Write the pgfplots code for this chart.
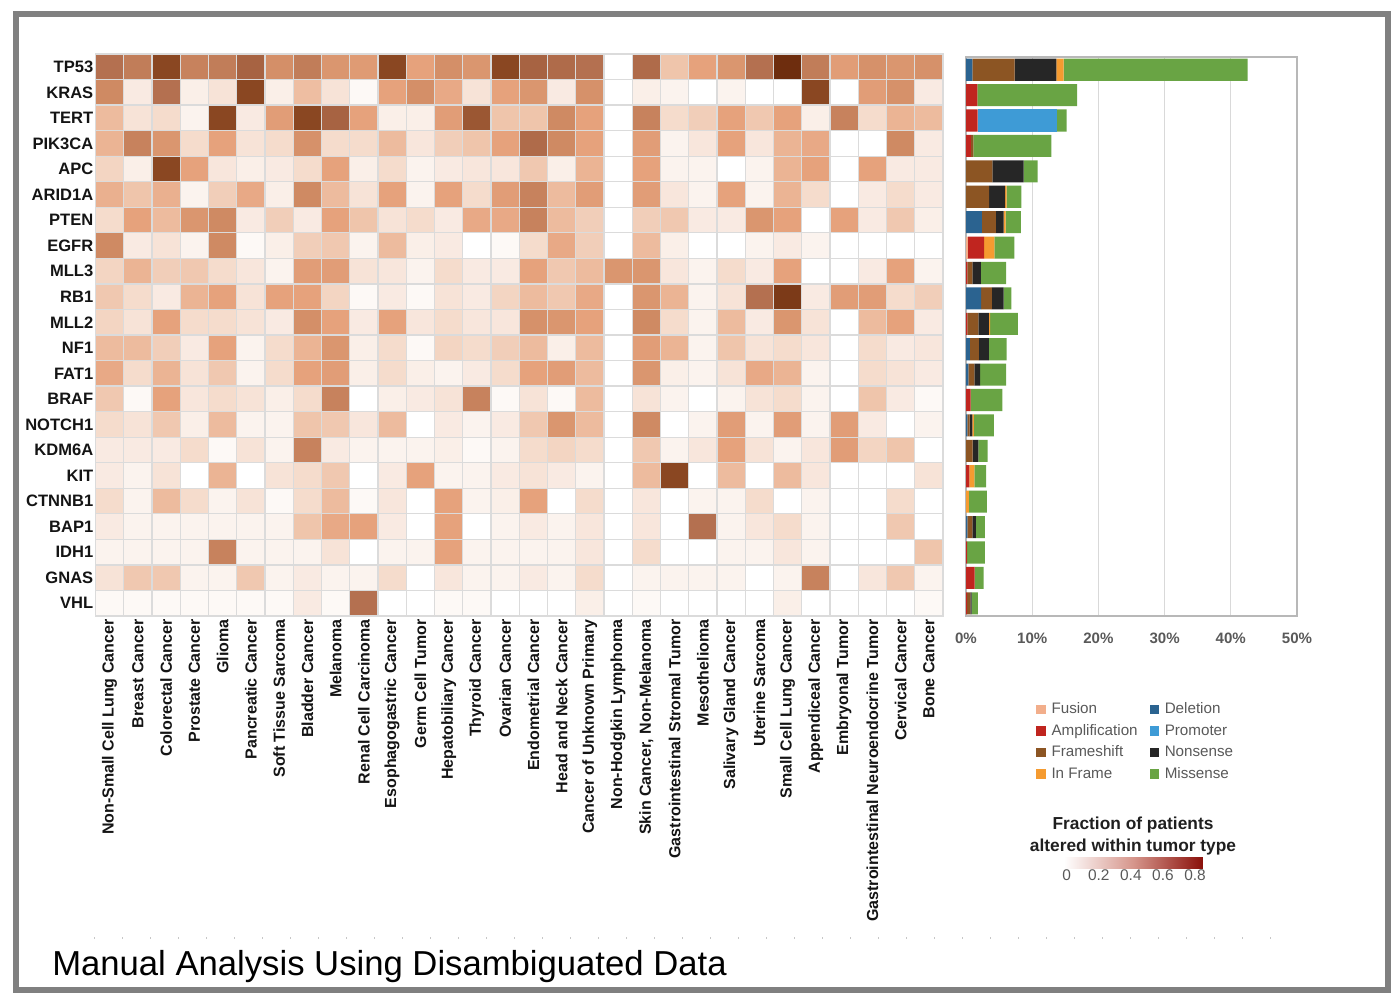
\documentclass[border=0pt]{standalone}
\usepackage{pgfplots}
\pgfplotsset{compat=1.18}
\usepackage{pgfplotstable}
\usepackage{fontspec}
\setmainfont{Liberation Sans}
\definecolor{cFus}{HTML}{F2AE8B}
\definecolor{cAmp}{HTML}{C0251F}
\definecolor{cDel}{HTML}{2B6390}
\definecolor{cFS}{HTML}{8C5523}
\definecolor{cIF}{HTML}{F59B30}
\definecolor{cProm}{HTML}{3E9BD6}
\definecolor{cNS}{HTML}{262626}
\definecolor{cMis}{HTML}{69A444}
\pgfplotstableread{
i fus amp del fs ns inf prom mis
0 0 0 0.95 6.4 6.3 1.1 0 27.8
1 0 1.7 0 0 0 0 0 15.1
2 0 1.75 0 0 0 0 12.0 1.45
3 0 0.75 0 0.35 0 0 0 11.8
4 0 0 0 4.0 4.7 0 0 2.1
5 0 0 0 3.5 2.4 0.25 0 2.2
6 0 0 2.4 2.1 1.2 0.3 0 2.3
7 0.25 2.5 0 0 0 1.55 0 3.0
8 0 0.2 0 0.75 1.3 0 0 3.8
9 0 0 2.3 1.6 1.8 0 0 1.15
10 0 0.2 0 1.65 1.6 0.2 0 4.2
11 0 0 0.6 1.35 1.5 0 0 2.7
12 0 0 0.35 0.9 0.9 0 0 3.9
13 0 0.7 0 0 0 0 0 4.8
14 0 0 0.2 0.35 0.4 0.25 0 3.0
15 0 0 0 1.0 0.85 0 0 1.4
16 0 0.5 0 0 0 0.75 0 1.8
17 0 0 0 0 0 0.45 0 2.7
18 0 0 0.2 0.75 0.55 0 0 1.35
19 0 0.15 0 0 0 0 0 2.7
20 0 1.3 0 0 0 0 0 1.35
21 0 0.15 0 0.5 0.2 0 0 0.95
}\bardata
\begin{document}
\begin{tikzpicture}[x=0.75pt,y=-0.75pt]
\path[use as bounding box] (0,0) rectangle (1400,1005);
\draw[black!50, line width=4.5pt] (16,14.5) rectangle (1387.5,990);
% heatmap
\begin{axis}[
  at={(71.625pt,-462pt)}, anchor=south west, scale only axis,
  width=635.6pt, height=421.5pt,
  xmin=-0.5, xmax=29.5, ymin=-0.5, ymax=21.5, y dir=reverse,
  axis line style={black!14, line width=1pt},
  xtick={0,...,29}, ytick={0,...,21},
  major tick length=0pt, minor tick length=0pt,
  minor xtick={0.5,1.5,...,28.5}, minor ytick={0.5,1.5,...,20.5},
  xminorgrids, yminorgrids, minor grid style={black!14, line width=1pt},
  axis on top,
  colormap={heat}{rgb255(0cm)=(255,255,255) rgb255(2cm)=(251,243,238) rgb255(5cm)=(248,230,220) rgb255(10cm)=(243,213,194) rgb255(18cm)=(237,187,158) rgb255(25cm)=(230,162,124) rgb255(35cm)=(207,138,99) rgb255(45cm)=(180,112,80) rgb255(60cm)=(142,74,37) rgb255(80cm)=(106,42,12)},
  point meta min=0, point meta max=0.8,
  xticklabels={Non-Small Cell Lung Cancer,Breast Cancer,Colorectal Cancer,Prostate Cancer,Glioma,Pancreatic Cancer,Soft Tissue Sarcoma,Bladder Cancer,Melanoma,Renal Cell Carcinoma,Esophagogastric Cancer,Germ Cell Tumor,Hepatobiliary Cancer,Thyroid Cancer,Ovarian Cancer,Endometrial Cancer,Head and Neck Cancer,Cancer of Unknown Primary,Non-Hodgkin Lymphoma,{Skin Cancer, Non-Melanoma},Gastrointestinal Stromal Tumor,Mesothelioma,Salivary Gland Cancer,Uterine Sarcoma,Small Cell Lung Cancer,Appendiceal Cancer,Embryonal Tumor,Gastrointestinal Neuroendocrine Tumor,Cervical Cancer,Bone Cancer},
  yticklabels={TP53,KRAS,TERT,PIK3CA,APC,ARID1A,PTEN,EGFR,MLL3,RB1,MLL2,NF1,FAT1,BRAF,NOTCH1,KDM6A,KIT,CTNNB1,BAP1,IDH1,GNAS,VHL},
  xticklabel style={rotate=90, anchor=east, inner sep=2.5pt, font=\bfseries\fontsize{12}{14}\selectfont, text=black!92},
  yticklabel style={inner sep=1.5pt, font=\bfseries\fontsize{12.4}{14}\selectfont, text=black!92},
]
\addplot[matrix plot*, mesh/cols=30, point meta=explicit] coordinates {
(0,0)[0.45] (1,0)[0.40] (2,0)[0.62] (3,0)[0.38] (4,0)[0.40] (5,0)[0.50] (6,0)[0.33] (7,0)[0.40] (8,0)[0.30] (9,0)[0.28] (10,0)[0.62] (11,0)[0.25] (12,0)[0.33] (13,0)[0.30] (14,0)[0.62] (15,0)[0.50] (16,0)[0.47] (17,0)[0.45] (18,0)[0] (19,0)[0.47] (20,0)[0.15] (21,0)[0.25] (22,0)[0.30] (23,0)[0.45] (24,0)[0.78] (25,0)[0.40] (26,0)[0.27] (27,0)[0.32] (28,0)[0.30] (29,0)[0.32]
(0,1)[0.35] (1,1)[0.04] (2,1)[0.45] (3,1)[0.03] (4,1)[0.06] (5,1)[0.62] (6,1)[0.03] (7,1)[0.17] (8,1)[0.06] (9,1)[0.01] (10,1)[0.25] (11,1)[0.33] (12,1)[0.23] (13,1)[0.06] (14,1)[0.25] (15,1)[0.30] (16,1)[0.04] (17,1)[0.32] (18,1)[0] (19,1)[0.03] (20,1)[0.02] (21,1)[0] (22,1)[0.02] (23,1)[0] (24,1)[0] (25,1)[0.62] (26,1)[0] (27,1)[0.27] (28,1)[0.32] (29,1)[0.04]
(0,2)[0.18] (1,2)[0.06] (2,2)[0.08] (3,2)[0.02] (4,2)[0.62] (5,2)[0.04] (6,2)[0.27] (7,2)[0.62] (8,2)[0.50] (9,2)[0.25] (10,2)[0.03] (11,2)[0.03] (12,2)[0.27] (13,2)[0.55] (14,2)[0.15] (15,2)[0.15] (16,2)[0.35] (17,2)[0.25] (18,2)[0] (19,2)[0.38] (20,2)[0.08] (21,2)[0.12] (22,2)[0.25] (23,2)[0.14] (24,2)[0.25] (25,2)[0.03] (26,2)[0.38] (27,2)[0.08] (28,2)[0.20] (29,2)[0.18]
(0,3)[0.20] (1,3)[0.38] (2,3)[0.30] (3,3)[0.08] (4,3)[0.25] (5,3)[0.06] (6,3)[0.08] (7,3)[0.32] (8,3)[0.08] (9,3)[0.08] (10,3)[0.18] (11,3)[0.05] (12,3)[0.12] (13,3)[0.15] (14,3)[0.25] (15,3)[0.47] (16,3)[0.35] (17,3)[0.25] (18,3)[0] (19,3)[0.27] (20,3)[0.02] (21,3)[0.05] (22,3)[0.25] (23,3)[0.05] (24,3)[0.20] (25,3)[0.23] (26,3)[0] (27,3)[0] (28,3)[0.35] (29,3)[0.04]
(0,4)[0.10] (1,4)[0.03] (2,4)[0.62] (3,4)[0.25] (4,4)[0.05] (5,4)[0.03] (6,4)[0.04] (7,4)[0.08] (8,4)[0.25] (9,4)[0.03] (10,4)[0.08] (11,4)[0.02] (12,4)[0.04] (13,4)[0.05] (14,4)[0.05] (15,4)[0.14] (16,4)[0.03] (17,4)[0.20] (18,4)[0] (19,4)[0.25] (20,4)[0.02] (21,4)[0.02] (22,4)[0] (23,4)[0.02] (24,4)[0.20] (25,4)[0.25] (26,4)[0] (27,4)[0.25] (28,4)[0.04] (29,4)[0.04]
(0,5)[0.21] (1,5)[0.15] (2,5)[0.21] (3,5)[0.02] (4,5)[0.12] (5,5)[0.23] (6,5)[0.03] (7,5)[0.35] (8,5)[0.18] (9,5)[0.06] (10,5)[0.25] (11,5)[0.02] (12,5)[0.25] (13,5)[0.08] (14,5)[0.27] (15,5)[0.38] (16,5)[0.18] (17,5)[0.27] (18,5)[0] (19,5)[0.27] (20,5)[0.05] (21,5)[0.02] (22,5)[0.25] (23,5)[0.02] (24,5)[0.20] (25,5)[0.08] (26,5)[0] (27,5)[0.04] (28,5)[0.08] (29,5)[0.04]
(0,6)[0.08] (1,6)[0.25] (2,6)[0.18] (3,6)[0.30] (4,6)[0.35] (5,6)[0.04] (6,6)[0.12] (7,6)[0.04] (8,6)[0.25] (9,6)[0.15] (10,6)[0.06] (11,6)[0.08] (12,6)[0.04] (13,6)[0.23] (14,6)[0.23] (15,6)[0.38] (16,6)[0.18] (17,6)[0.12] (18,6)[0] (19,6)[0.12] (20,6)[0.14] (21,6)[0.04] (22,6)[0.04] (23,6)[0.30] (24,6)[0.25] (25,6)[0] (26,6)[0.25] (27,6)[0.04] (28,6)[0.14] (29,6)[0.03]
(0,7)[0.35] (1,7)[0.04] (2,7)[0.06] (3,7)[0.02] (4,7)[0.35] (5,7)[0.01] (6,7)[0.03] (7,7)[0.12] (8,7)[0.14] (9,7)[0.02] (10,7)[0.18] (11,7)[0.03] (12,7)[0.04] (13,7)[0] (14,7)[0.01] (15,7)[0.08] (16,7)[0.23] (17,7)[0.12] (18,7)[0] (19,7)[0.18] (20,7)[0.03] (21,7)[0] (22,7)[0] (23,7)[0.02] (24,7)[0.04] (25,7)[0.02] (26,7)[0] (27,7)[0] (28,7)[0] (29,7)[0]
(0,8)[0.10] (1,8)[0.20] (2,8)[0.12] (3,8)[0.14] (4,8)[0.08] (5,8)[0.05] (6,8)[0.02] (7,8)[0.27] (8,8)[0.27] (9,8)[0.06] (10,8)[0.05] (11,8)[0.02] (12,8)[0.08] (13,8)[0.04] (14,8)[0.04] (15,8)[0.25] (16,8)[0.14] (17,8)[0.18] (18,8)[0.30] (19,8)[0.30] (20,8)[0.05] (21,8)[0.02] (22,8)[0.08] (23,8)[0.04] (24,8)[0.25] (25,8)[0] (26,8)[0] (27,8)[0.04] (28,8)[0.25] (29,8)[0.02]
(0,9)[0.14] (1,9)[0.08] (2,9)[0.04] (3,9)[0.20] (4,9)[0.25] (5,9)[0.06] (6,9)[0.25] (7,9)[0.25] (8,9)[0.10] (9,9)[0.01] (10,9)[0.04] (11,9)[0.01] (12,9)[0.06] (13,9)[0.04] (14,9)[0.10] (15,9)[0.18] (16,9)[0.14] (17,9)[0.23] (18,9)[0] (19,9)[0.30] (20,9)[0.20] (21,9)[0.02] (22,9)[0.06] (23,9)[0.45] (24,9)[0.70] (25,9)[0.04] (26,9)[0.27] (27,9)[0.27] (28,9)[0.08] (29,9)[0.12]
(0,10)[0.10] (1,10)[0.06] (2,10)[0.25] (3,10)[0.08] (4,10)[0.08] (5,10)[0.06] (6,10)[0.04] (7,10)[0.33] (8,10)[0.25] (9,10)[0.04] (10,10)[0.25] (11,10)[0.05] (12,10)[0.08] (13,10)[0.05] (14,10)[0.05] (15,10)[0.32] (16,10)[0.30] (17,10)[0.25] (18,10)[0] (19,10)[0.35] (20,10)[0.08] (21,10)[0.02] (22,10)[0.18] (23,10)[0.04] (24,10)[0.30] (25,10)[0.06] (26,10)[0] (27,10)[0.18] (28,10)[0.25] (29,10)[0.04]
(0,11)[0.18] (1,11)[0.18] (2,11)[0.12] (3,11)[0.04] (4,11)[0.25] (5,11)[0.02] (6,11)[0.08] (7,11)[0.20] (8,11)[0.30] (9,11)[0.03] (10,11)[0.08] (11,11)[0.01] (12,11)[0.10] (13,11)[0.08] (14,11)[0.12] (15,11)[0.18] (16,11)[0.03] (17,11)[0.18] (18,11)[0] (19,11)[0.27] (20,11)[0.20] (21,11)[0.02] (22,11)[0.15] (23,11)[0.06] (24,11)[0.08] (25,11)[0.05] (26,11)[0] (27,11)[0.08] (28,11)[0.04] (29,11)[0.05]
(0,12)[0.23] (1,12)[0.08] (2,12)[0.20] (3,12)[0.06] (4,12)[0.14] (5,12)[0.02] (6,12)[0.08] (7,12)[0.25] (8,12)[0.27] (9,12)[0.03] (10,12)[0.08] (11,12)[0.03] (12,12)[0.02] (13,12)[0.04] (14,12)[0.08] (15,12)[0.25] (16,12)[0.27] (17,12)[0.18] (18,12)[0] (19,12)[0.30] (20,12)[0.03] (21,12)[0.02] (22,12)[0.06] (23,12)[0.23] (24,12)[0.20] (25,12)[0.02] (26,12)[0] (27,12)[0.08] (28,12)[0.06] (29,12)[0.04]
(0,13)[0.14] (1,13)[0.01] (2,13)[0.25] (3,13)[0.05] (4,13)[0.08] (5,13)[0.06] (6,13)[0.03] (7,13)[0.08] (8,13)[0.38] (9,13)[0] (10,13)[0.03] (11,13)[0.04] (12,13)[0.06] (13,13)[0.38] (14,13)[0.01] (15,13)[0.06] (16,13)[0.01] (17,13)[0.18] (18,13)[0] (19,13)[0.06] (20,13)[0.02] (21,13)[0] (22,13)[0.02] (23,13)[0.06] (24,13)[0.08] (25,13)[0.02] (26,13)[0] (27,13)[0.15] (28,13)[0.04] (29,13)[0.01]
(0,14)[0.08] (1,14)[0.06] (2,14)[0.14] (3,14)[0.03] (4,14)[0.18] (5,14)[0.02] (6,14)[0.02] (7,14)[0.15] (8,14)[0.14] (9,14)[0.05] (10,14)[0.18] (11,14)[0] (12,14)[0.04] (13,14)[0.02] (14,14)[0.04] (15,14)[0.14] (16,14)[0.30] (17,14)[0.18] (18,14)[0] (19,14)[0.35] (20,14)[0] (21,14)[0.02] (22,14)[0.27] (23,14)[0.02] (24,14)[0.27] (25,14)[0.02] (26,14)[0.27] (27,14)[0.04] (28,14)[0] (29,14)[0.02]
(0,15)[0.04] (1,15)[0.04] (2,15)[0.04] (3,15)[0.08] (4,15)[0.01] (5,15)[0.06] (6,15)[0.02] (7,15)[0.38] (8,15)[0.04] (9,15)[0.02] (10,15)[0.02] (11,15)[0.02] (12,15)[0.03] (13,15)[0.01] (14,15)[0.02] (15,15)[0.08] (16,15)[0.10] (17,15)[0.08] (18,15)[0] (19,15)[0.14] (20,15)[0.02] (21,15)[0.05] (22,15)[0.25] (23,15)[0.06] (24,15)[0.02] (25,15)[0.05] (26,15)[0.27] (27,15)[0.10] (28,15)[0.15] (29,15)[0]
(0,16)[0.04] (1,16)[0.02] (2,16)[0.06] (3,16)[0] (4,16)[0.20] (5,16)[0] (6,16)[0.06] (7,16)[0.08] (8,16)[0.14] (9,16)[0] (10,16)[0.04] (11,16)[0.25] (12,16)[0.02] (13,16)[0.02] (14,16)[0.04] (15,16)[0.06] (16,16)[0.04] (17,16)[0.02] (18,16)[0] (19,16)[0.18] (20,16)[0.62] (21,16)[0] (22,16)[0.18] (23,16)[0] (24,16)[0.18] (25,16)[0.05] (26,16)[0] (27,16)[0] (28,16)[0] (29,16)[0.06]
(0,17)[0.08] (1,17)[0.02] (2,17)[0.18] (3,17)[0.08] (4,17)[0.02] (5,17)[0.06] (6,17)[0.01] (7,17)[0.08] (8,17)[0.18] (9,17)[0.01] (10,17)[0.05] (11,17)[0] (12,17)[0.25] (13,17)[0.02] (14,17)[0.03] (15,17)[0.25] (16,17)[0] (17,17)[0.08] (18,17)[0] (19,17)[0.05] (20,17)[0] (21,17)[0.02] (22,17)[0.02] (23,17)[0.08] (24,17)[0] (25,17)[0.02] (26,17)[0] (27,17)[0] (28,17)[0.08] (29,17)[0]
(0,18)[0.04] (1,18)[0.02] (2,18)[0.02] (3,18)[0.02] (4,18)[0.02] (5,18)[0.02] (6,18)[0.02] (7,18)[0.15] (8,18)[0.23] (9,18)[0.25] (10,18)[0.04] (11,18)[0] (12,18)[0.25] (13,18)[0] (14,18)[0.02] (15,18)[0.04] (16,18)[0.02] (17,18)[0.05] (18,18)[0] (19,18)[0.05] (20,18)[0] (21,18)[0.45] (22,18)[0.02] (23,18)[0.05] (24,18)[0.08] (25,18)[0.02] (26,18)[0] (27,18)[0] (28,18)[0.14] (29,18)[0]
(0,19)[0.02] (1,19)[0.02] (2,19)[0.02] (3,19)[0.02] (4,19)[0.38] (5,19)[0.02] (6,19)[0.02] (7,19)[0.02] (8,19)[0.06] (9,19)[0] (10,19)[0.02] (11,19)[0.02] (12,19)[0.25] (13,19)[0.02] (14,19)[0.02] (15,19)[0.02] (16,19)[0.02] (17,19)[0.05] (18,19)[0] (19,19)[0.08] (20,19)[0] (21,19)[0] (22,19)[0.02] (23,19)[0.02] (24,19)[0.05] (25,19)[0.02] (26,19)[0] (27,19)[0] (28,19)[0] (29,19)[0.15]
(0,20)[0.06] (1,20)[0.14] (2,20)[0.14] (3,20)[0.02] (4,20)[0.02] (5,20)[0.14] (6,20)[0.02] (7,20)[0.04] (8,20)[0.02] (9,20)[0.02] (10,20)[0.08] (11,20)[0] (12,20)[0.05] (13,20)[0.02] (14,20)[0.02] (15,20)[0.04] (16,20)[0.02] (17,20)[0.08] (18,20)[0] (19,20)[0.02] (20,20)[0.02] (21,20)[0.02] (22,20)[0.02] (23,20)[0] (24,20)[0.02] (25,20)[0.38] (26,20)[0] (27,20)[0.05] (28,20)[0.14] (29,20)[0.02]
(0,21)[0.01] (1,21)[0.01] (2,21)[0.01] (3,21)[0.01] (4,21)[0.01] (5,21)[0.01] (6,21)[0.01] (7,21)[0.04] (8,21)[0.01] (9,21)[0.45] (10,21)[0] (11,21)[0] (12,21)[0.01] (13,21)[0.01] (14,21)[0] (15,21)[0] (16,21)[0] (17,21)[0.03] (18,21)[0] (19,21)[0.01] (20,21)[0] (21,21)[0] (22,21)[0] (23,21)[0] (24,21)[0.03] (25,21)[0] (26,21)[0] (27,21)[0] (28,21)[0] (29,21)[0.01]
};
\end{axis}
% stacked bars
\begin{axis}[
  at={(724.5pt,-462pt)}, anchor=south west, scale only axis,
  width=248.25pt, height=419.25pt,
  xbar stacked, bar width=0.87,
  xmin=0, xmax=50, ymin=-0.5, ymax=21.5, y dir=reverse,
  ytick=\empty, xtick={0,10,...,50},
  xticklabel={\pgfmathprintnumber{\tick}\%},
  /pgf/number format/assume math mode=true,
  xmajorgrids, major grid style={black!15, line width=1pt},
  axis line style={black!28, line width=1pt},
  major tick length=0pt,
  xticklabel style={font=\bfseries\fontsize{11.3}{13}\selectfont, text=black!65, yshift=-9pt},
  legend style={at={(0.212,-0.150)}, anchor=north west, draw=none, fill=none,
    font=\fontsize{11.4}{13}\selectfont, text=black!65, legend columns=2,
    row sep=2.4pt, inner sep=0pt,
    /tikz/every odd column/.append style={column sep=2.5pt},
    /tikz/every even column/.append style={column sep=7pt}},
  legend cell align=left,
]
\addplot[fill=cFus, draw=none, forget plot] table[x=fus, y=i] {\bardata};
\addplot[fill=cAmp, draw=none, forget plot] table[x=amp, y=i] {\bardata};
\addplot[fill=cDel, draw=none, forget plot] table[x=del, y=i] {\bardata};
\addplot[fill=cFS, draw=none, forget plot] table[x=fs, y=i] {\bardata};
\addplot[fill=cNS, draw=none, forget plot] table[x=ns, y=i] {\bardata};
\addplot[fill=cIF, draw=none, forget plot] table[x=inf, y=i] {\bardata};
\addplot[fill=cProm, draw=none, forget plot] table[x=prom, y=i] {\bardata};
\addplot[fill=cMis, draw=none, forget plot] table[x=mis, y=i] {\bardata};
\addlegendimage{legend image code/.code={\fill[cFus] (0pt,-3.2pt) rectangle (6.4pt,3.2pt);}}
\addlegendentry{Fusion}
\addlegendimage{legend image code/.code={\fill[cDel] (0pt,-3.2pt) rectangle (6.4pt,3.2pt);}}
\addlegendentry{Deletion}
\addlegendimage{legend image code/.code={\fill[cAmp] (0pt,-3.2pt) rectangle (6.4pt,3.2pt);}}
\addlegendentry{Amplification}
\addlegendimage{legend image code/.code={\fill[cProm] (0pt,-3.2pt) rectangle (6.4pt,3.2pt);}}
\addlegendentry{Promoter}
\addlegendimage{legend image code/.code={\fill[cFS] (0pt,-3.2pt) rectangle (6.4pt,3.2pt);}}
\addlegendentry{Frameshift}
\addlegendimage{legend image code/.code={\fill[cNS] (0pt,-3.2pt) rectangle (6.4pt,3.2pt);}}
\addlegendentry{Nonsense}
\addlegendimage{legend image code/.code={\fill[cIF] (0pt,-3.2pt) rectangle (6.4pt,3.2pt);}}
\addlegendentry{In Frame}
\addlegendimage{legend image code/.code={\fill[cMis] (0pt,-3.2pt) rectangle (6.4pt,3.2pt);}}
\addlegendentry{Missense}
\end{axis}
% colorbar
\begin{axis}[
  at={(798pt,-651pt)}, anchor=south west, scale only axis,
  width=103.5pt, height=8.25pt,
  xmin=0, xmax=0.86, ymin=0, ymax=1,
  ytick=\empty, xtick={0,0.2,0.4,0.6,0.8},
  major tick length=0pt, axis line style={draw=none},
  /pgf/number format/assume math mode=true,
  colormap={redbar}{rgb255(0cm)=(255,255,255) rgb255(1cm)=(214,150,140) rgb255(2cm)=(139,18,12)},
  point meta min=0, point meta max=0.86,
  xticklabel style={font=\fontsize{11.6}{13}\selectfont, text=black!65, inner sep=1pt, xshift=2pt},
]
\addplot[surf, shader=interp, mesh/cols=2, point meta=x] coordinates {
(0,0) (0.86,0)

(0,1) (0.86,1)
};
\end{axis}
\node[font=\bfseries\fontsize{13}{16.5}\selectfont, align=center, text=black!88] at (1133,836) {Fraction of patients\\altered within tumor type};
\draw[black!22, line width=0.8pt, dash pattern=on 0.8pt off 20.2pt] (94,938) -- (1295,938);
\node[anchor=base west, inner sep=0pt, font=\fontsize{26}{30}\selectfont] at (52,975) {Manual Analysis Using Disambiguated Data};
\end{tikzpicture}
\end{document}
